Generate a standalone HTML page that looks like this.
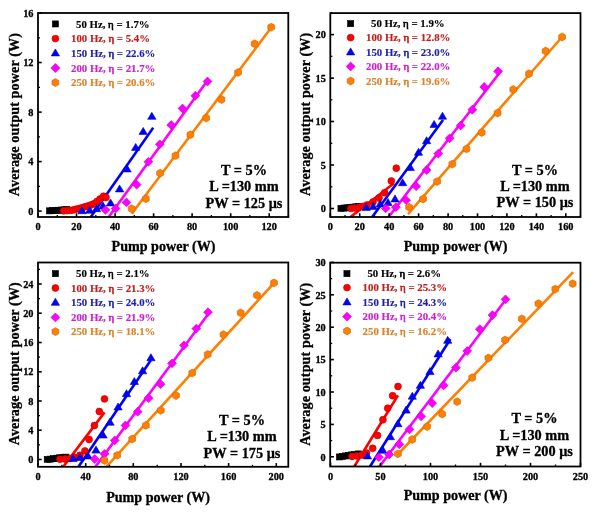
<!DOCTYPE html>
<html><head><meta charset="utf-8"><style>html,body{margin:0;padding:0;background:#fff;width:600px;height:514px;overflow:hidden}svg{display:block;will-change:transform}</style></head>
<body><svg width="600" height="514" viewBox="0 0 600 514">
<rect width="600" height="514" fill="#fff"/>
<clipPath id="c3813"><rect x="38" y="13" width="250.3" height="204"/></clipPath>
<g clip-path="url(#c3813)">
<line x1="90.8" y1="217" x2="153.2" y2="127.7" stroke="#0000ff" stroke-width="2.6"/>
<line x1="108.7" y1="217" x2="207.5" y2="80.5" stroke="#ff00ff" stroke-width="2.6"/>
<line x1="131.7" y1="213.75" x2="270.5" y2="28.5" stroke="#ff8000" stroke-width="2.6"/>
<rect x="46.5" y="207.8" width="6.1" height="6.1" fill="#000000" stroke="#000" stroke-width="0.6"/>
<rect x="49.5" y="207.6" width="6.1" height="6.1" fill="#000000" stroke="#000" stroke-width="0.6"/>
<rect x="52.5" y="207.4" width="6.1" height="6.1" fill="#000000" stroke="#000" stroke-width="0.6"/>
<rect x="55.5" y="207.2" width="6.1" height="6.1" fill="#000000" stroke="#000" stroke-width="0.6"/>
<rect x="58.5" y="207.0" width="6.1" height="6.1" fill="#000000" stroke="#000" stroke-width="0.6"/>
<rect x="61.5" y="206.8" width="6.1" height="6.1" fill="#000000" stroke="#000" stroke-width="0.6"/>
<rect x="63.7" y="206.5" width="6.1" height="6.1" fill="#000000" stroke="#000" stroke-width="0.6"/>
<circle cx="63.7" cy="210.8" r="3.45" fill="#ff0000" stroke="#c00000" stroke-width="0.6"/>
<circle cx="67.0" cy="210.6" r="3.45" fill="#ff0000" stroke="#c00000" stroke-width="0.6"/>
<circle cx="70.0" cy="210.4" r="3.45" fill="#ff0000" stroke="#c00000" stroke-width="0.6"/>
<circle cx="73.0" cy="210.0" r="3.45" fill="#ff0000" stroke="#c00000" stroke-width="0.6"/>
<circle cx="76.0" cy="209.3" r="3.45" fill="#ff0000" stroke="#c00000" stroke-width="0.6"/>
<circle cx="79.0" cy="208.5" r="3.45" fill="#ff0000" stroke="#c00000" stroke-width="0.6"/>
<circle cx="82.0" cy="207.7" r="3.45" fill="#ff0000" stroke="#c00000" stroke-width="0.6"/>
<circle cx="85.0" cy="206.8" r="3.45" fill="#ff0000" stroke="#c00000" stroke-width="0.6"/>
<circle cx="88.0" cy="205.9" r="3.45" fill="#ff0000" stroke="#c00000" stroke-width="0.6"/>
<circle cx="91.0" cy="204.9" r="3.45" fill="#ff0000" stroke="#c00000" stroke-width="0.6"/>
<circle cx="94.0" cy="203.7" r="3.45" fill="#ff0000" stroke="#c00000" stroke-width="0.6"/>
<circle cx="97.0" cy="201.5" r="3.45" fill="#ff0000" stroke="#c00000" stroke-width="0.6"/>
<circle cx="100.0" cy="199.0" r="3.45" fill="#ff0000" stroke="#c00000" stroke-width="0.6"/>
<circle cx="103.5" cy="196.2" r="3.45" fill="#ff0000" stroke="#c00000" stroke-width="0.6"/>
<circle cx="106.0" cy="197.5" r="3.45" fill="#ff0000" stroke="#c00000" stroke-width="0.6"/>
<polygon points="82.0,206.7 86.2,213.7 77.8,213.7" fill="#0000ff" stroke="#0000a8" stroke-width="0.6" stroke-linejoin="round"/>
<polygon points="89.7,206.2 93.9,213.2 85.5,213.2" fill="#0000ff" stroke="#0000a8" stroke-width="0.6" stroke-linejoin="round"/>
<polygon points="96.5,204.7 100.7,211.7 92.3,211.7" fill="#0000ff" stroke="#0000a8" stroke-width="0.6" stroke-linejoin="round"/>
<polygon points="103.0,202.1 107.2,209.1 98.8,209.1" fill="#0000ff" stroke="#0000a8" stroke-width="0.6" stroke-linejoin="round"/>
<polygon points="110.5,198.9 114.7,205.9 106.3,205.9" fill="#0000ff" stroke="#0000a8" stroke-width="0.6" stroke-linejoin="round"/>
<polygon points="119.6,184.9 123.8,191.9 115.4,191.9" fill="#0000ff" stroke="#0000a8" stroke-width="0.6" stroke-linejoin="round"/>
<polygon points="127.1,164.9 131.2,171.9 122.9,171.9" fill="#0000ff" stroke="#0000a8" stroke-width="0.6" stroke-linejoin="round"/>
<polygon points="135.7,143.4 139.8,150.4 131.5,150.4" fill="#0000ff" stroke="#0000a8" stroke-width="0.6" stroke-linejoin="round"/>
<polygon points="143.2,127.4 147.3,134.4 139.0,134.4" fill="#0000ff" stroke="#0000a8" stroke-width="0.6" stroke-linejoin="round"/>
<polygon points="151.8,112.3 156.0,119.3 147.7,119.3" fill="#0000ff" stroke="#0000a8" stroke-width="0.6" stroke-linejoin="round"/>
<polygon points="105.4,205.5 109.9,209.9 105.4,214.3 101.0,209.9" fill="#ff00ff" stroke="#c000c0" stroke-width="0.6"/>
<polygon points="115.6,204.1 120.0,208.5 115.6,212.9 111.1,208.5" fill="#ff00ff" stroke="#c000c0" stroke-width="0.6"/>
<polygon points="126.5,198.0 130.9,202.4 126.5,206.8 122.0,202.4" fill="#ff00ff" stroke="#c000c0" stroke-width="0.6"/>
<polygon points="136.7,180.2 141.1,184.7 136.7,189.1 132.2,184.7" fill="#ff00ff" stroke="#c000c0" stroke-width="0.6"/>
<polygon points="148.4,157.4 152.8,161.8 148.4,166.2 144.0,161.8" fill="#ff00ff" stroke="#c000c0" stroke-width="0.6"/>
<polygon points="159.8,139.9 164.2,144.3 159.8,148.8 155.4,144.3" fill="#ff00ff" stroke="#c000c0" stroke-width="0.6"/>
<polygon points="171.2,120.5 175.6,125.0 171.2,129.4 166.8,125.0" fill="#ff00ff" stroke="#c000c0" stroke-width="0.6"/>
<polygon points="182.5,104.0 186.9,108.4 182.5,112.9 178.1,108.4" fill="#ff00ff" stroke="#c000c0" stroke-width="0.6"/>
<polygon points="195.3,91.3 199.8,95.8 195.3,100.2 190.9,95.8" fill="#ff00ff" stroke="#c000c0" stroke-width="0.6"/>
<polygon points="207.5,77.0 211.9,81.5 207.5,86.0 203.1,81.5" fill="#ff00ff" stroke="#c000c0" stroke-width="0.6"/>
<polygon points="131.7,204.8 135.1,206.8 135.1,210.7 131.7,212.7 128.3,210.7 128.3,206.8" fill="#ff8000" stroke="#d06000" stroke-width="0.6"/>
<polygon points="145.8,194.8 149.2,196.8 149.2,200.7 145.8,202.7 142.4,200.7 142.4,196.8" fill="#ff8000" stroke="#d06000" stroke-width="0.6"/>
<polygon points="160.1,169.2 163.5,171.2 163.5,175.2 160.1,177.1 156.7,175.2 156.7,171.2" fill="#ff8000" stroke="#d06000" stroke-width="0.6"/>
<polygon points="175.5,151.8 178.9,153.7 178.9,157.7 175.5,159.6 172.1,157.7 172.1,153.7" fill="#ff8000" stroke="#d06000" stroke-width="0.6"/>
<polygon points="190.4,130.8 193.8,132.7 193.8,136.7 190.4,138.6 187.0,136.7 187.0,132.7" fill="#ff8000" stroke="#d06000" stroke-width="0.6"/>
<polygon points="206.2,114.0 209.6,116.0 209.6,120.0 206.2,122.0 202.8,120.0 202.8,116.0" fill="#ff8000" stroke="#d06000" stroke-width="0.6"/>
<polygon points="221.5,95.5 224.9,97.5 224.9,101.5 221.5,103.5 218.1,101.5 218.1,97.5" fill="#ff8000" stroke="#d06000" stroke-width="0.6"/>
<polygon points="238.1,68.5 241.5,70.4 241.5,74.4 238.1,76.4 234.7,74.4 234.7,70.4" fill="#ff8000" stroke="#d06000" stroke-width="0.6"/>
<polygon points="254.6,39.8 258.0,41.8 258.0,45.7 254.6,47.7 251.2,45.7 251.2,41.8" fill="#ff8000" stroke="#d06000" stroke-width="0.6"/>
<polygon points="271.2,23.2 274.7,25.1 274.7,29.1 271.2,31.1 267.8,29.1 267.8,25.1" fill="#ff8000" stroke="#d06000" stroke-width="0.6"/>
</g>
<rect x="38" y="13" width="250.3" height="204" fill="none" stroke="#000" stroke-width="1.8"/>
<line x1="38.0" y1="217" x2="38.0" y2="213.3" stroke="#000" stroke-width="1.6"/>
<text x="38.0" y="229.8" font-size="10.3" fill="#000" stroke="#000" stroke-width="0.3" text-anchor="middle" font-family="Liberation Serif" font-weight="bold" >0</text>
<line x1="57.3" y1="217" x2="57.3" y2="215" stroke="#000" stroke-width="1.3"/>
<line x1="76.5" y1="217" x2="76.5" y2="213.3" stroke="#000" stroke-width="1.6"/>
<text x="76.5" y="229.8" font-size="10.3" fill="#000" stroke="#000" stroke-width="0.3" text-anchor="middle" font-family="Liberation Serif" font-weight="bold" >20</text>
<line x1="95.8" y1="217" x2="95.8" y2="215" stroke="#000" stroke-width="1.3"/>
<line x1="115.1" y1="217" x2="115.1" y2="213.3" stroke="#000" stroke-width="1.6"/>
<text x="115.1" y="229.8" font-size="10.3" fill="#000" stroke="#000" stroke-width="0.3" text-anchor="middle" font-family="Liberation Serif" font-weight="bold" >40</text>
<line x1="134.3" y1="217" x2="134.3" y2="215" stroke="#000" stroke-width="1.3"/>
<line x1="153.6" y1="217" x2="153.6" y2="213.3" stroke="#000" stroke-width="1.6"/>
<text x="153.6" y="229.8" font-size="10.3" fill="#000" stroke="#000" stroke-width="0.3" text-anchor="middle" font-family="Liberation Serif" font-weight="bold" >60</text>
<line x1="172.9" y1="217" x2="172.9" y2="215" stroke="#000" stroke-width="1.3"/>
<line x1="192.1" y1="217" x2="192.1" y2="213.3" stroke="#000" stroke-width="1.6"/>
<text x="192.1" y="229.8" font-size="10.3" fill="#000" stroke="#000" stroke-width="0.3" text-anchor="middle" font-family="Liberation Serif" font-weight="bold" >80</text>
<line x1="211.4" y1="217" x2="211.4" y2="215" stroke="#000" stroke-width="1.3"/>
<line x1="230.7" y1="217" x2="230.7" y2="213.3" stroke="#000" stroke-width="1.6"/>
<text x="230.7" y="229.8" font-size="10.3" fill="#000" stroke="#000" stroke-width="0.3" text-anchor="middle" font-family="Liberation Serif" font-weight="bold" >100</text>
<line x1="249.9" y1="217" x2="249.9" y2="215" stroke="#000" stroke-width="1.3"/>
<line x1="269.2" y1="217" x2="269.2" y2="213.3" stroke="#000" stroke-width="1.6"/>
<text x="269.2" y="229.8" font-size="10.3" fill="#000" stroke="#000" stroke-width="0.3" text-anchor="middle" font-family="Liberation Serif" font-weight="bold" >120</text>
<line x1="288.5" y1="217" x2="288.5" y2="215" stroke="#000" stroke-width="1.3"/>
<line x1="38" y1="211.1" x2="41.7" y2="211.1" stroke="#000" stroke-width="1.6"/>
<text x="33.5" y="214.8" font-size="10.3" fill="#000" stroke="#000" stroke-width="0.3" text-anchor="end" font-family="Liberation Serif" font-weight="bold" >0</text>
<line x1="38" y1="186.3" x2="40" y2="186.3" stroke="#000" stroke-width="1.3"/>
<line x1="38" y1="161.6" x2="41.7" y2="161.6" stroke="#000" stroke-width="1.6"/>
<text x="33.5" y="165.3" font-size="10.3" fill="#000" stroke="#000" stroke-width="0.3" text-anchor="end" font-family="Liberation Serif" font-weight="bold" >4</text>
<line x1="38" y1="136.8" x2="40" y2="136.8" stroke="#000" stroke-width="1.3"/>
<line x1="38" y1="112.1" x2="41.7" y2="112.1" stroke="#000" stroke-width="1.6"/>
<text x="33.5" y="115.8" font-size="10.3" fill="#000" stroke="#000" stroke-width="0.3" text-anchor="end" font-family="Liberation Serif" font-weight="bold" >8</text>
<line x1="38" y1="87.3" x2="40" y2="87.3" stroke="#000" stroke-width="1.3"/>
<line x1="38" y1="62.5" x2="41.7" y2="62.5" stroke="#000" stroke-width="1.6"/>
<text x="33.5" y="66.2" font-size="10.3" fill="#000" stroke="#000" stroke-width="0.3" text-anchor="end" font-family="Liberation Serif" font-weight="bold" >12</text>
<line x1="38" y1="37.8" x2="40" y2="37.8" stroke="#000" stroke-width="1.3"/>
<line x1="38" y1="13.0" x2="41.7" y2="13.0" stroke="#000" stroke-width="1.6"/>
<text x="33.5" y="16.7" font-size="10.3" fill="#000" stroke="#000" stroke-width="0.3" text-anchor="end" font-family="Liberation Serif" font-weight="bold" >16</text>
<rect x="52.4" y="20.9" width="6.1" height="6.1" fill="#000000" stroke="#000" stroke-width="0.6"/>
<text x="76" y="27.7" font-size="10.8" fill="#000" stroke="#000" stroke-width="0.15" text-anchor="start" font-family="Liberation Serif" font-weight="bold" >50 Hz, <tspan font-weight="normal" stroke-width="0.65">η</tspan> = 1.7%</text>
<circle cx="55.4" cy="38.6" r="3.45" fill="#ff0000" stroke="#c00000" stroke-width="0.6"/>
<text x="71" y="42.3" font-size="10.8" fill="#c41c1c" stroke="#c41c1c" stroke-width="0.15" text-anchor="start" font-family="Liberation Serif" font-weight="bold" >100 Hz, <tspan font-weight="normal" stroke-width="0.65">η</tspan> = 5.4%</text>
<polygon points="55.4,48.9 59.5,55.9 51.2,55.9" fill="#0000ff" stroke="#0000a8" stroke-width="0.6" stroke-linejoin="round"/>
<text x="71" y="56.7" font-size="10.8" fill="#1e1ea8" stroke="#1e1ea8" stroke-width="0.15" text-anchor="start" font-family="Liberation Serif" font-weight="bold" >150 Hz, <tspan font-weight="normal" stroke-width="0.65">η</tspan> = 22.6%</text>
<polygon points="55.4,63.5 59.9,68.0 55.4,72.5 50.9,68.0" fill="#ff00ff" stroke="#c000c0" stroke-width="0.6"/>
<text x="71" y="71.7" font-size="10.8" fill="#cc22cc" stroke="#cc22cc" stroke-width="0.15" text-anchor="start" font-family="Liberation Serif" font-weight="bold" >200 Hz, <tspan font-weight="normal" stroke-width="0.65">η</tspan> = 21.7%</text>
<polygon points="55.4,78.6 58.8,80.6 58.8,84.6 55.4,86.5 52.0,84.6 52.0,80.6" fill="#ff8000" stroke="#d06000" stroke-width="0.6"/>
<text x="71" y="86.3" font-size="10.8" fill="#dc8228" stroke="#dc8228" stroke-width="0.15" text-anchor="start" font-family="Liberation Serif" font-weight="bold" >250 Hz, <tspan font-weight="normal" stroke-width="0.65">η</tspan> = 20.6%</text>
<text x="244" y="174.5" font-size="14.3" fill="#000" stroke="#000" stroke-width="0.3" text-anchor="middle" font-family="Liberation Serif" font-weight="bold" >T = 5%</text>
<text x="244" y="191" font-size="14.3" fill="#000" stroke="#000" stroke-width="0.3" text-anchor="middle" font-family="Liberation Serif" font-weight="bold" >L =130 mm</text>
<text x="244" y="207.5" font-size="14.3" fill="#000" stroke="#000" stroke-width="0.3" text-anchor="middle" font-family="Liberation Serif" font-weight="bold" >PW = 125 μs</text>
<text x="163.5" y="250.8" font-size="14.1" fill="#000" stroke="#000" stroke-width="0.3" text-anchor="middle" font-family="Liberation Serif" font-weight="bold" >Pump power (W)</text>
<text transform="translate(19.4,114.6) rotate(-90)" font-size="14.1" stroke="#000" stroke-width="0.3" letter-spacing="0.12" text-anchor="middle" font-family="Liberation Serif" font-weight="bold">Average output power (W)</text>
<clipPath id="c33013"><rect x="330.3" y="13.1" width="250.2" height="203.9"/></clipPath>
<g clip-path="url(#c33013)">
<line x1="350.5" y1="217" x2="394" y2="183.3" stroke="#ff0000" stroke-width="2.6"/>
<line x1="372.2" y1="217" x2="443" y2="120" stroke="#0000ff" stroke-width="2.6"/>
<line x1="388.6" y1="217" x2="499.4" y2="73" stroke="#ff00ff" stroke-width="2.6"/>
<line x1="408" y1="214.2" x2="562" y2="37" stroke="#ff8000" stroke-width="2.6"/>
<rect x="337.9" y="205.3" width="6.1" height="6.1" fill="#000000" stroke="#000" stroke-width="0.6"/>
<rect x="340.9" y="205.0" width="6.1" height="6.1" fill="#000000" stroke="#000" stroke-width="0.6"/>
<rect x="343.9" y="204.8" width="6.1" height="6.1" fill="#000000" stroke="#000" stroke-width="0.6"/>
<rect x="346.9" y="204.4" width="6.1" height="6.1" fill="#000000" stroke="#000" stroke-width="0.6"/>
<rect x="349.9" y="204.1" width="6.1" height="6.1" fill="#000000" stroke="#000" stroke-width="0.6"/>
<rect x="352.9" y="203.8" width="6.1" height="6.1" fill="#000000" stroke="#000" stroke-width="0.6"/>
<rect x="355.6" y="203.5" width="6.1" height="6.1" fill="#000000" stroke="#000" stroke-width="0.6"/>
<circle cx="351.0" cy="208.4" r="3.45" fill="#ff0000" stroke="#c00000" stroke-width="0.6"/>
<circle cx="355.0" cy="208.0" r="3.45" fill="#ff0000" stroke="#c00000" stroke-width="0.6"/>
<circle cx="359.0" cy="207.4" r="3.45" fill="#ff0000" stroke="#c00000" stroke-width="0.6"/>
<circle cx="363.0" cy="206.4" r="3.45" fill="#ff0000" stroke="#c00000" stroke-width="0.6"/>
<circle cx="367.0" cy="205.0" r="3.45" fill="#ff0000" stroke="#c00000" stroke-width="0.6"/>
<circle cx="373.0" cy="202.0" r="3.45" fill="#ff0000" stroke="#c00000" stroke-width="0.6"/>
<circle cx="379.0" cy="198.0" r="3.45" fill="#ff0000" stroke="#c00000" stroke-width="0.6"/>
<circle cx="384.7" cy="192.7" r="3.45" fill="#ff0000" stroke="#c00000" stroke-width="0.6"/>
<circle cx="391.3" cy="181.0" r="3.45" fill="#ff0000" stroke="#c00000" stroke-width="0.6"/>
<circle cx="396.3" cy="168.2" r="3.45" fill="#ff0000" stroke="#c00000" stroke-width="0.6"/>
<polygon points="366.2,203.4 370.3,210.4 362.1,210.4" fill="#0000ff" stroke="#0000a8" stroke-width="0.6" stroke-linejoin="round"/>
<polygon points="373.2,202.4 377.3,209.4 369.1,209.4" fill="#0000ff" stroke="#0000a8" stroke-width="0.6" stroke-linejoin="round"/>
<polygon points="380.2,199.9 384.3,206.9 376.1,206.9" fill="#0000ff" stroke="#0000a8" stroke-width="0.6" stroke-linejoin="round"/>
<polygon points="388.0,198.5 392.1,205.5 383.9,205.5" fill="#0000ff" stroke="#0000a8" stroke-width="0.6" stroke-linejoin="round"/>
<polygon points="395.0,194.9 399.1,201.9 390.9,201.9" fill="#0000ff" stroke="#0000a8" stroke-width="0.6" stroke-linejoin="round"/>
<polygon points="402.6,178.7 406.8,185.7 398.5,185.7" fill="#0000ff" stroke="#0000a8" stroke-width="0.6" stroke-linejoin="round"/>
<polygon points="410.3,163.5 414.4,170.5 406.2,170.5" fill="#0000ff" stroke="#0000a8" stroke-width="0.6" stroke-linejoin="round"/>
<polygon points="418.5,148.3 422.6,155.3 414.4,155.3" fill="#0000ff" stroke="#0000a8" stroke-width="0.6" stroke-linejoin="round"/>
<polygon points="426.6,136.7 430.8,143.7 422.5,143.7" fill="#0000ff" stroke="#0000a8" stroke-width="0.6" stroke-linejoin="round"/>
<polygon points="434.1,120.4 438.2,127.4 430.0,127.4" fill="#0000ff" stroke="#0000a8" stroke-width="0.6" stroke-linejoin="round"/>
<polygon points="442.5,112.2 446.6,119.2 438.4,119.2" fill="#0000ff" stroke="#0000a8" stroke-width="0.6" stroke-linejoin="round"/>
<polygon points="385.8,204.0 390.2,208.4 385.8,212.8 381.4,208.4" fill="#ff00ff" stroke="#c000c0" stroke-width="0.6"/>
<polygon points="395.9,202.8 400.3,207.2 395.9,211.6 391.4,207.2" fill="#ff00ff" stroke="#c000c0" stroke-width="0.6"/>
<polygon points="406.1,195.8 410.6,200.2 406.1,204.6 401.7,200.2" fill="#ff00ff" stroke="#c000c0" stroke-width="0.6"/>
<polygon points="416.1,181.8 420.6,186.2 416.1,190.6 411.7,186.2" fill="#ff00ff" stroke="#c000c0" stroke-width="0.6"/>
<polygon points="426.6,165.6 431.1,170.0 426.6,174.4 422.2,170.0" fill="#ff00ff" stroke="#c000c0" stroke-width="0.6"/>
<polygon points="438.3,149.2 442.8,153.6 438.3,158.0 433.9,153.6" fill="#ff00ff" stroke="#c000c0" stroke-width="0.6"/>
<polygon points="449.6,133.9 454.1,138.3 449.6,142.8 445.2,138.3" fill="#ff00ff" stroke="#c000c0" stroke-width="0.6"/>
<polygon points="460.7,121.1 465.1,125.6 460.7,130.0 456.2,125.6" fill="#ff00ff" stroke="#c000c0" stroke-width="0.6"/>
<polygon points="472.3,105.2 476.8,109.7 472.3,114.2 467.9,109.7" fill="#ff00ff" stroke="#c000c0" stroke-width="0.6"/>
<polygon points="484.2,82.5 488.6,87.0 484.2,91.5 479.8,87.0" fill="#ff00ff" stroke="#c000c0" stroke-width="0.6"/>
<polygon points="498.1,66.8 502.6,71.3 498.1,75.8 493.7,71.3" fill="#ff00ff" stroke="#c000c0" stroke-width="0.6"/>
<polygon points="409.1,203.2 412.5,205.2 412.5,209.2 409.1,211.1 405.7,209.2 405.7,205.2" fill="#ff8000" stroke="#d06000" stroke-width="0.6"/>
<polygon points="423.1,195.1 426.5,197.0 426.5,201.0 423.1,202.9 419.7,201.0 419.7,197.0" fill="#ff8000" stroke="#d06000" stroke-width="0.6"/>
<polygon points="437.1,177.7 440.5,179.6 440.5,183.6 437.1,185.5 433.7,183.6 433.7,179.6" fill="#ff8000" stroke="#d06000" stroke-width="0.6"/>
<polygon points="452.3,160.2 455.7,162.1 455.7,166.1 452.3,168.0 448.9,166.1 448.9,162.1" fill="#ff8000" stroke="#d06000" stroke-width="0.6"/>
<polygon points="466.5,145.0 469.9,146.9 469.9,150.9 466.5,152.8 463.1,150.9 463.1,146.9" fill="#ff8000" stroke="#d06000" stroke-width="0.6"/>
<polygon points="481.7,128.6 485.1,130.5 485.1,134.5 481.7,136.4 478.3,134.5 478.3,130.5" fill="#ff8000" stroke="#d06000" stroke-width="0.6"/>
<polygon points="497.6,109.0 501.0,111.0 501.0,115.0 497.6,117.0 494.2,115.0 494.2,111.0" fill="#ff8000" stroke="#d06000" stroke-width="0.6"/>
<polygon points="513.3,85.5 516.7,87.5 516.7,91.5 513.3,93.5 509.9,91.5 509.9,87.5" fill="#ff8000" stroke="#d06000" stroke-width="0.6"/>
<polygon points="529.0,69.8 532.4,71.8 532.4,75.8 529.0,77.8 525.6,75.8 525.6,71.8" fill="#ff8000" stroke="#d06000" stroke-width="0.6"/>
<polygon points="545.6,47.1 549.0,49.1 549.0,53.1 545.6,55.1 542.2,53.1 542.2,49.1" fill="#ff8000" stroke="#d06000" stroke-width="0.6"/>
<polygon points="562.1,32.9 565.5,34.9 565.5,38.9 562.1,40.9 558.7,38.9 558.7,34.9" fill="#ff8000" stroke="#d06000" stroke-width="0.6"/>
</g>
<rect x="330.3" y="13.1" width="250.2" height="203.9" fill="none" stroke="#000" stroke-width="1.8"/>
<line x1="330.3" y1="217" x2="330.3" y2="213.3" stroke="#000" stroke-width="1.6"/>
<text x="330.3" y="229.8" font-size="10.3" fill="#000" stroke="#000" stroke-width="0.3" text-anchor="middle" font-family="Liberation Serif" font-weight="bold" >0</text>
<line x1="345.0" y1="217" x2="345.0" y2="215" stroke="#000" stroke-width="1.3"/>
<line x1="359.7" y1="217" x2="359.7" y2="213.3" stroke="#000" stroke-width="1.6"/>
<text x="359.7" y="229.8" font-size="10.3" fill="#000" stroke="#000" stroke-width="0.3" text-anchor="middle" font-family="Liberation Serif" font-weight="bold" >20</text>
<line x1="374.5" y1="217" x2="374.5" y2="215" stroke="#000" stroke-width="1.3"/>
<line x1="389.2" y1="217" x2="389.2" y2="213.3" stroke="#000" stroke-width="1.6"/>
<text x="389.2" y="229.8" font-size="10.3" fill="#000" stroke="#000" stroke-width="0.3" text-anchor="middle" font-family="Liberation Serif" font-weight="bold" >40</text>
<line x1="403.9" y1="217" x2="403.9" y2="215" stroke="#000" stroke-width="1.3"/>
<line x1="418.6" y1="217" x2="418.6" y2="213.3" stroke="#000" stroke-width="1.6"/>
<text x="418.6" y="229.8" font-size="10.3" fill="#000" stroke="#000" stroke-width="0.3" text-anchor="middle" font-family="Liberation Serif" font-weight="bold" >60</text>
<line x1="433.3" y1="217" x2="433.3" y2="215" stroke="#000" stroke-width="1.3"/>
<line x1="448.1" y1="217" x2="448.1" y2="213.3" stroke="#000" stroke-width="1.6"/>
<text x="448.1" y="229.8" font-size="10.3" fill="#000" stroke="#000" stroke-width="0.3" text-anchor="middle" font-family="Liberation Serif" font-weight="bold" >80</text>
<line x1="462.8" y1="217" x2="462.8" y2="215" stroke="#000" stroke-width="1.3"/>
<line x1="477.5" y1="217" x2="477.5" y2="213.3" stroke="#000" stroke-width="1.6"/>
<text x="477.5" y="229.8" font-size="10.3" fill="#000" stroke="#000" stroke-width="0.3" text-anchor="middle" font-family="Liberation Serif" font-weight="bold" >100</text>
<line x1="492.2" y1="217" x2="492.2" y2="215" stroke="#000" stroke-width="1.3"/>
<line x1="506.9" y1="217" x2="506.9" y2="213.3" stroke="#000" stroke-width="1.6"/>
<text x="506.9" y="229.8" font-size="10.3" fill="#000" stroke="#000" stroke-width="0.3" text-anchor="middle" font-family="Liberation Serif" font-weight="bold" >120</text>
<line x1="521.7" y1="217" x2="521.7" y2="215" stroke="#000" stroke-width="1.3"/>
<line x1="536.4" y1="217" x2="536.4" y2="213.3" stroke="#000" stroke-width="1.6"/>
<text x="536.4" y="229.8" font-size="10.3" fill="#000" stroke="#000" stroke-width="0.3" text-anchor="middle" font-family="Liberation Serif" font-weight="bold" >140</text>
<line x1="551.1" y1="217" x2="551.1" y2="215" stroke="#000" stroke-width="1.3"/>
<line x1="565.8" y1="217" x2="565.8" y2="213.3" stroke="#000" stroke-width="1.6"/>
<text x="565.8" y="229.8" font-size="10.3" fill="#000" stroke="#000" stroke-width="0.3" text-anchor="middle" font-family="Liberation Serif" font-weight="bold" >160</text>
<line x1="580.5" y1="217" x2="580.5" y2="215" stroke="#000" stroke-width="1.3"/>
<line x1="330.3" y1="208.5" x2="334.0" y2="208.5" stroke="#000" stroke-width="1.6"/>
<text x="325.8" y="212.2" font-size="10.3" fill="#000" stroke="#000" stroke-width="0.3" text-anchor="end" font-family="Liberation Serif" font-weight="bold" >0</text>
<line x1="330.3" y1="186.8" x2="332.3" y2="186.8" stroke="#000" stroke-width="1.3"/>
<line x1="330.3" y1="165.0" x2="334.0" y2="165.0" stroke="#000" stroke-width="1.6"/>
<text x="325.8" y="168.7" font-size="10.3" fill="#000" stroke="#000" stroke-width="0.3" text-anchor="end" font-family="Liberation Serif" font-weight="bold" >5</text>
<line x1="330.3" y1="143.3" x2="332.3" y2="143.3" stroke="#000" stroke-width="1.3"/>
<line x1="330.3" y1="121.5" x2="334.0" y2="121.5" stroke="#000" stroke-width="1.6"/>
<text x="325.8" y="125.2" font-size="10.3" fill="#000" stroke="#000" stroke-width="0.3" text-anchor="end" font-family="Liberation Serif" font-weight="bold" >10</text>
<line x1="330.3" y1="99.8" x2="332.3" y2="99.8" stroke="#000" stroke-width="1.3"/>
<line x1="330.3" y1="78.1" x2="334.0" y2="78.1" stroke="#000" stroke-width="1.6"/>
<text x="325.8" y="81.8" font-size="10.3" fill="#000" stroke="#000" stroke-width="0.3" text-anchor="end" font-family="Liberation Serif" font-weight="bold" >15</text>
<line x1="330.3" y1="56.3" x2="332.3" y2="56.3" stroke="#000" stroke-width="1.3"/>
<line x1="330.3" y1="34.6" x2="334.0" y2="34.6" stroke="#000" stroke-width="1.6"/>
<text x="325.8" y="38.3" font-size="10.3" fill="#000" stroke="#000" stroke-width="0.3" text-anchor="end" font-family="Liberation Serif" font-weight="bold" >20</text>
<line x1="330.3" y1="12.9" x2="332.3" y2="12.9" stroke="#000" stroke-width="1.3"/>
<rect x="347.6" y="20.6" width="6.1" height="6.1" fill="#000000" stroke="#000" stroke-width="0.6"/>
<text x="371" y="27.3" font-size="10.8" fill="#000" stroke="#000" stroke-width="0.15" text-anchor="start" font-family="Liberation Serif" font-weight="bold" >50 Hz, <tspan font-weight="normal" stroke-width="0.65">η</tspan> = 1.9%</text>
<circle cx="350.6" cy="37.6" r="3.45" fill="#ff0000" stroke="#c00000" stroke-width="0.6"/>
<text x="366" y="41.3" font-size="10.8" fill="#c41c1c" stroke="#c41c1c" stroke-width="0.15" text-anchor="start" font-family="Liberation Serif" font-weight="bold" >100 Hz, <tspan font-weight="normal" stroke-width="0.65">η</tspan> = 12.8%</text>
<polygon points="350.6,47.9 354.8,54.9 346.5,54.9" fill="#0000ff" stroke="#0000a8" stroke-width="0.6" stroke-linejoin="round"/>
<text x="366" y="55.7" font-size="10.8" fill="#1e1ea8" stroke="#1e1ea8" stroke-width="0.15" text-anchor="start" font-family="Liberation Serif" font-weight="bold" >150 Hz, <tspan font-weight="normal" stroke-width="0.65">η</tspan> = 23.0%</text>
<polygon points="350.6,62.0 355.1,66.4 350.6,70.9 346.2,66.4" fill="#ff00ff" stroke="#c000c0" stroke-width="0.6"/>
<text x="366" y="70.1" font-size="10.8" fill="#cc22cc" stroke="#cc22cc" stroke-width="0.15" text-anchor="start" font-family="Liberation Serif" font-weight="bold" >200 Hz, <tspan font-weight="normal" stroke-width="0.65">η</tspan> = 22.0%</text>
<polygon points="350.6,77.0 354.0,79.0 354.0,83.0 350.6,85.0 347.2,83.0 347.2,79.0" fill="#ff8000" stroke="#d06000" stroke-width="0.6"/>
<text x="366" y="84.7" font-size="10.8" fill="#dc8228" stroke="#dc8228" stroke-width="0.15" text-anchor="start" font-family="Liberation Serif" font-weight="bold" >250 Hz, <tspan font-weight="normal" stroke-width="0.65">η</tspan> = 19.6%</text>
<text x="535" y="174.7" font-size="14.3" fill="#000" stroke="#000" stroke-width="0.3" text-anchor="middle" font-family="Liberation Serif" font-weight="bold" >T = 5%</text>
<text x="535" y="191.2" font-size="14.3" fill="#000" stroke="#000" stroke-width="0.3" text-anchor="middle" font-family="Liberation Serif" font-weight="bold" >L =130 mm</text>
<text x="535" y="207.2" font-size="14.3" fill="#000" stroke="#000" stroke-width="0.3" text-anchor="middle" font-family="Liberation Serif" font-weight="bold" >PW = 150 μs</text>
<text x="455.6" y="251.25" font-size="14.1" fill="#000" stroke="#000" stroke-width="0.3" text-anchor="middle" font-family="Liberation Serif" font-weight="bold" >Pump power (W)</text>
<text transform="translate(310.2,114.3) rotate(-90)" font-size="14.1" stroke="#000" stroke-width="0.3" letter-spacing="0.12" text-anchor="middle" font-family="Liberation Serif" font-weight="bold">Average output power (W)</text>
<clipPath id="c38262"><rect x="38" y="262.5" width="250.3" height="204.3"/></clipPath>
<g clip-path="url(#c38262)">
<line x1="63.2" y1="466.8" x2="104.5" y2="412.4" stroke="#ff0000" stroke-width="2.6"/>
<line x1="78.5" y1="466.8" x2="150.8" y2="360.2" stroke="#0000ff" stroke-width="2.6"/>
<line x1="95.4" y1="466.8" x2="208.6" y2="313.6" stroke="#ff00ff" stroke-width="2.6"/>
<line x1="106.3" y1="466.8" x2="274" y2="283" stroke="#ff8000" stroke-width="2.6"/>
<rect x="44.2" y="456.3" width="6.1" height="6.1" fill="#000000" stroke="#000" stroke-width="0.6"/>
<rect x="47.2" y="456.1" width="6.1" height="6.1" fill="#000000" stroke="#000" stroke-width="0.6"/>
<rect x="50.4" y="455.6" width="6.1" height="6.1" fill="#000000" stroke="#000" stroke-width="0.6"/>
<rect x="53.5" y="455.2" width="6.1" height="6.1" fill="#000000" stroke="#000" stroke-width="0.6"/>
<rect x="56.6" y="454.8" width="6.1" height="6.1" fill="#000000" stroke="#000" stroke-width="0.6"/>
<rect x="59.7" y="454.4" width="6.1" height="6.1" fill="#000000" stroke="#000" stroke-width="0.6"/>
<rect x="62.8" y="454.1" width="6.1" height="6.1" fill="#000000" stroke="#000" stroke-width="0.6"/>
<circle cx="60.0" cy="459.2" r="3.45" fill="#ff0000" stroke="#c00000" stroke-width="0.6"/>
<circle cx="65.0" cy="459.0" r="3.45" fill="#ff0000" stroke="#c00000" stroke-width="0.6"/>
<circle cx="70.0" cy="458.5" r="3.45" fill="#ff0000" stroke="#c00000" stroke-width="0.6"/>
<circle cx="75.0" cy="457.5" r="3.45" fill="#ff0000" stroke="#c00000" stroke-width="0.6"/>
<circle cx="80.0" cy="455.3" r="3.45" fill="#ff0000" stroke="#c00000" stroke-width="0.6"/>
<circle cx="84.9" cy="450.9" r="3.45" fill="#ff0000" stroke="#c00000" stroke-width="0.6"/>
<circle cx="89.1" cy="439.5" r="3.45" fill="#ff0000" stroke="#c00000" stroke-width="0.6"/>
<circle cx="94.4" cy="425.5" r="3.45" fill="#ff0000" stroke="#c00000" stroke-width="0.6"/>
<circle cx="99.3" cy="411.5" r="3.45" fill="#ff0000" stroke="#c00000" stroke-width="0.6"/>
<circle cx="104.5" cy="398.9" r="3.45" fill="#ff0000" stroke="#c00000" stroke-width="0.6"/>
<polygon points="73.0,454.4 77.2,461.4 68.8,461.4" fill="#0000ff" stroke="#0000a8" stroke-width="0.6" stroke-linejoin="round"/>
<polygon points="80.0,453.4 84.2,460.4 75.8,460.4" fill="#0000ff" stroke="#0000a8" stroke-width="0.6" stroke-linejoin="round"/>
<polygon points="88.0,451.9 92.2,458.9 83.8,458.9" fill="#0000ff" stroke="#0000a8" stroke-width="0.6" stroke-linejoin="round"/>
<polygon points="96.0,446.1 100.2,453.1 91.8,453.1" fill="#0000ff" stroke="#0000a8" stroke-width="0.6" stroke-linejoin="round"/>
<polygon points="103.0,431.0 107.2,438.0 98.8,438.0" fill="#0000ff" stroke="#0000a8" stroke-width="0.6" stroke-linejoin="round"/>
<polygon points="110.0,418.2 114.2,425.2 105.8,425.2" fill="#0000ff" stroke="#0000a8" stroke-width="0.6" stroke-linejoin="round"/>
<polygon points="118.1,403.0 122.2,410.0 113.9,410.0" fill="#0000ff" stroke="#0000a8" stroke-width="0.6" stroke-linejoin="round"/>
<polygon points="126.5,389.7 130.7,396.7 122.3,396.7" fill="#0000ff" stroke="#0000a8" stroke-width="0.6" stroke-linejoin="round"/>
<polygon points="134.3,377.5 138.5,384.5 130.2,384.5" fill="#0000ff" stroke="#0000a8" stroke-width="0.6" stroke-linejoin="round"/>
<polygon points="142.6,366.8 146.8,373.8 138.4,373.8" fill="#0000ff" stroke="#0000a8" stroke-width="0.6" stroke-linejoin="round"/>
<polygon points="150.9,353.7 155.1,360.7 146.8,360.7" fill="#0000ff" stroke="#0000a8" stroke-width="0.6" stroke-linejoin="round"/>
<polygon points="94.7,454.6 99.2,459.0 94.7,463.4 90.2,459.0" fill="#ff00ff" stroke="#c000c0" stroke-width="0.6"/>
<polygon points="104.5,449.4 109.0,453.8 104.5,458.2 100.0,453.8" fill="#ff00ff" stroke="#c000c0" stroke-width="0.6"/>
<polygon points="114.8,435.9 119.2,440.4 114.8,444.8 110.3,440.4" fill="#ff00ff" stroke="#c000c0" stroke-width="0.6"/>
<polygon points="125.4,420.9 129.8,425.4 125.4,429.8 121.0,425.4" fill="#ff00ff" stroke="#c000c0" stroke-width="0.6"/>
<polygon points="137.7,407.2 142.1,411.7 137.7,416.1 133.2,411.7" fill="#ff00ff" stroke="#c000c0" stroke-width="0.6"/>
<polygon points="148.6,393.7 153.0,398.1 148.6,402.6 144.2,398.1" fill="#ff00ff" stroke="#c000c0" stroke-width="0.6"/>
<polygon points="160.6,379.8 165.0,384.2 160.6,388.6 156.2,384.2" fill="#ff00ff" stroke="#c000c0" stroke-width="0.6"/>
<polygon points="172.0,358.9 176.4,363.3 172.0,367.8 167.6,363.3" fill="#ff00ff" stroke="#c000c0" stroke-width="0.6"/>
<polygon points="184.0,340.9 188.4,345.3 184.0,349.8 179.6,345.3" fill="#ff00ff" stroke="#c000c0" stroke-width="0.6"/>
<polygon points="196.3,324.2 200.8,328.6 196.3,333.1 191.9,328.6" fill="#ff00ff" stroke="#c000c0" stroke-width="0.6"/>
<polygon points="208.0,307.8 212.4,312.2 208.0,316.6 203.6,312.2" fill="#ff00ff" stroke="#c000c0" stroke-width="0.6"/>
<polygon points="104.5,456.6 107.9,458.5 107.9,462.5 104.5,464.4 101.1,462.5 101.1,458.5" fill="#ff8000" stroke="#d06000" stroke-width="0.6"/>
<polygon points="117.2,451.4 120.6,453.3 120.6,457.3 117.2,459.2 113.8,457.3 113.8,453.3" fill="#ff8000" stroke="#d06000" stroke-width="0.6"/>
<polygon points="132.2,435.1 135.6,437.0 135.6,441.0 132.2,442.9 128.8,441.0 128.8,437.0" fill="#ff8000" stroke="#d06000" stroke-width="0.6"/>
<polygon points="145.9,421.4 149.3,423.4 149.3,427.4 145.9,429.3 142.5,427.4 142.5,423.4" fill="#ff8000" stroke="#d06000" stroke-width="0.6"/>
<polygon points="160.8,406.4 164.2,408.4 164.2,412.4 160.8,414.3 157.4,412.4 157.4,408.4" fill="#ff8000" stroke="#d06000" stroke-width="0.6"/>
<polygon points="176.0,391.7 179.4,393.6 179.4,397.6 176.0,399.6 172.6,397.6 172.6,393.6" fill="#ff8000" stroke="#d06000" stroke-width="0.6"/>
<polygon points="192.2,369.1 195.6,371.0 195.6,375.0 192.2,376.9 188.8,375.0 188.8,371.0" fill="#ff8000" stroke="#d06000" stroke-width="0.6"/>
<polygon points="207.7,350.4 211.1,352.4 211.1,356.4 207.7,358.3 204.3,356.4 204.3,352.4" fill="#ff8000" stroke="#d06000" stroke-width="0.6"/>
<polygon points="223.5,330.7 226.9,332.6 226.9,336.6 223.5,338.6 220.1,336.6 220.1,332.6" fill="#ff8000" stroke="#d06000" stroke-width="0.6"/>
<polygon points="240.7,308.9 244.1,310.8 244.1,314.8 240.7,316.8 237.3,314.8 237.3,310.8" fill="#ff8000" stroke="#d06000" stroke-width="0.6"/>
<polygon points="257.0,291.4 260.4,293.3 260.4,297.3 257.0,299.2 253.6,297.3 253.6,293.3" fill="#ff8000" stroke="#d06000" stroke-width="0.6"/>
<polygon points="274.0,278.9 277.4,280.8 277.4,284.8 274.0,286.8 270.6,284.8 270.6,280.8" fill="#ff8000" stroke="#d06000" stroke-width="0.6"/>
</g>
<rect x="38" y="262.5" width="250.3" height="204.3" fill="none" stroke="#000" stroke-width="1.8"/>
<line x1="38.0" y1="466.8" x2="38.0" y2="463.1" stroke="#000" stroke-width="1.6"/>
<text x="38.0" y="479.5" font-size="10.3" fill="#000" stroke="#000" stroke-width="0.3" text-anchor="middle" font-family="Liberation Serif" font-weight="bold" >0</text>
<line x1="61.8" y1="466.8" x2="61.8" y2="464.8" stroke="#000" stroke-width="1.3"/>
<line x1="85.7" y1="466.8" x2="85.7" y2="463.1" stroke="#000" stroke-width="1.6"/>
<text x="85.7" y="479.5" font-size="10.3" fill="#000" stroke="#000" stroke-width="0.3" text-anchor="middle" font-family="Liberation Serif" font-weight="bold" >40</text>
<line x1="109.5" y1="466.8" x2="109.5" y2="464.8" stroke="#000" stroke-width="1.3"/>
<line x1="133.3" y1="466.8" x2="133.3" y2="463.1" stroke="#000" stroke-width="1.6"/>
<text x="133.3" y="479.5" font-size="10.3" fill="#000" stroke="#000" stroke-width="0.3" text-anchor="middle" font-family="Liberation Serif" font-weight="bold" >80</text>
<line x1="157.2" y1="466.8" x2="157.2" y2="464.8" stroke="#000" stroke-width="1.3"/>
<line x1="181.0" y1="466.8" x2="181.0" y2="463.1" stroke="#000" stroke-width="1.6"/>
<text x="181.0" y="479.5" font-size="10.3" fill="#000" stroke="#000" stroke-width="0.3" text-anchor="middle" font-family="Liberation Serif" font-weight="bold" >120</text>
<line x1="204.8" y1="466.8" x2="204.8" y2="464.8" stroke="#000" stroke-width="1.3"/>
<line x1="228.6" y1="466.8" x2="228.6" y2="463.1" stroke="#000" stroke-width="1.6"/>
<text x="228.6" y="479.5" font-size="10.3" fill="#000" stroke="#000" stroke-width="0.3" text-anchor="middle" font-family="Liberation Serif" font-weight="bold" >160</text>
<line x1="252.5" y1="466.8" x2="252.5" y2="464.8" stroke="#000" stroke-width="1.3"/>
<line x1="276.3" y1="466.8" x2="276.3" y2="463.1" stroke="#000" stroke-width="1.6"/>
<text x="276.3" y="479.5" font-size="10.3" fill="#000" stroke="#000" stroke-width="0.3" text-anchor="middle" font-family="Liberation Serif" font-weight="bold" >200</text>
<line x1="38" y1="459.5" x2="41.7" y2="459.5" stroke="#000" stroke-width="1.6"/>
<text x="33.5" y="463.2" font-size="10.3" fill="#000" stroke="#000" stroke-width="0.3" text-anchor="end" font-family="Liberation Serif" font-weight="bold" >0</text>
<line x1="38" y1="444.9" x2="40" y2="444.9" stroke="#000" stroke-width="1.3"/>
<line x1="38" y1="430.2" x2="41.7" y2="430.2" stroke="#000" stroke-width="1.6"/>
<text x="33.5" y="433.9" font-size="10.3" fill="#000" stroke="#000" stroke-width="0.3" text-anchor="end" font-family="Liberation Serif" font-weight="bold" >4</text>
<line x1="38" y1="415.6" x2="40" y2="415.6" stroke="#000" stroke-width="1.3"/>
<line x1="38" y1="401.0" x2="41.7" y2="401.0" stroke="#000" stroke-width="1.6"/>
<text x="33.5" y="404.7" font-size="10.3" fill="#000" stroke="#000" stroke-width="0.3" text-anchor="end" font-family="Liberation Serif" font-weight="bold" >8</text>
<line x1="38" y1="386.4" x2="40" y2="386.4" stroke="#000" stroke-width="1.3"/>
<line x1="38" y1="371.8" x2="41.7" y2="371.8" stroke="#000" stroke-width="1.6"/>
<text x="33.5" y="375.4" font-size="10.3" fill="#000" stroke="#000" stroke-width="0.3" text-anchor="end" font-family="Liberation Serif" font-weight="bold" >12</text>
<line x1="38" y1="357.1" x2="40" y2="357.1" stroke="#000" stroke-width="1.3"/>
<line x1="38" y1="342.5" x2="41.7" y2="342.5" stroke="#000" stroke-width="1.6"/>
<text x="33.5" y="346.2" font-size="10.3" fill="#000" stroke="#000" stroke-width="0.3" text-anchor="end" font-family="Liberation Serif" font-weight="bold" >16</text>
<line x1="38" y1="327.9" x2="40" y2="327.9" stroke="#000" stroke-width="1.3"/>
<line x1="38" y1="313.2" x2="41.7" y2="313.2" stroke="#000" stroke-width="1.6"/>
<text x="33.5" y="316.9" font-size="10.3" fill="#000" stroke="#000" stroke-width="0.3" text-anchor="end" font-family="Liberation Serif" font-weight="bold" >20</text>
<line x1="38" y1="298.6" x2="40" y2="298.6" stroke="#000" stroke-width="1.3"/>
<line x1="38" y1="284.0" x2="41.7" y2="284.0" stroke="#000" stroke-width="1.6"/>
<text x="33.5" y="287.7" font-size="10.3" fill="#000" stroke="#000" stroke-width="0.3" text-anchor="end" font-family="Liberation Serif" font-weight="bold" >24</text>
<line x1="38" y1="269.4" x2="40" y2="269.4" stroke="#000" stroke-width="1.3"/>
<rect x="52.4" y="270.6" width="6.1" height="6.1" fill="#000000" stroke="#000" stroke-width="0.6"/>
<text x="76" y="277.3" font-size="10.8" fill="#000" stroke="#000" stroke-width="0.15" text-anchor="start" font-family="Liberation Serif" font-weight="bold" >50 Hz, <tspan font-weight="normal" stroke-width="0.65">η</tspan> = 2.1%</text>
<circle cx="55.4" cy="288.0" r="3.45" fill="#ff0000" stroke="#c00000" stroke-width="0.6"/>
<text x="71" y="291.7" font-size="10.8" fill="#c41c1c" stroke="#c41c1c" stroke-width="0.15" text-anchor="start" font-family="Liberation Serif" font-weight="bold" >100 Hz, <tspan font-weight="normal" stroke-width="0.65">η</tspan> = 21.3%</text>
<polygon points="55.4,298.3 59.5,305.3 51.2,305.3" fill="#0000ff" stroke="#0000a8" stroke-width="0.6" stroke-linejoin="round"/>
<text x="71" y="306.1" font-size="10.8" fill="#1e1ea8" stroke="#1e1ea8" stroke-width="0.15" text-anchor="start" font-family="Liberation Serif" font-weight="bold" >150 Hz, <tspan font-weight="normal" stroke-width="0.65">η</tspan> = 24.0%</text>
<polygon points="55.4,312.9 59.9,317.4 55.4,321.8 50.9,317.4" fill="#ff00ff" stroke="#c000c0" stroke-width="0.6"/>
<text x="71" y="321.1" font-size="10.8" fill="#cc22cc" stroke="#cc22cc" stroke-width="0.15" text-anchor="start" font-family="Liberation Serif" font-weight="bold" >200 Hz, <tspan font-weight="normal" stroke-width="0.65">η</tspan> = 21.9%</text>
<polygon points="55.4,327.7 58.8,329.6 58.8,333.6 55.4,335.6 52.0,333.6 52.0,329.6" fill="#ff8000" stroke="#d06000" stroke-width="0.6"/>
<text x="71" y="335.3" font-size="10.8" fill="#dc8228" stroke="#dc8228" stroke-width="0.15" text-anchor="start" font-family="Liberation Serif" font-weight="bold" >250 Hz, <tspan font-weight="normal" stroke-width="0.65">η</tspan> = 18.1%</text>
<text x="242" y="424.5" font-size="14.3" fill="#000" stroke="#000" stroke-width="0.3" text-anchor="middle" font-family="Liberation Serif" font-weight="bold" >T = 5%</text>
<text x="242" y="441" font-size="14.3" fill="#000" stroke="#000" stroke-width="0.3" text-anchor="middle" font-family="Liberation Serif" font-weight="bold" >L =130 mm</text>
<text x="242" y="457.8" font-size="14.3" fill="#000" stroke="#000" stroke-width="0.3" text-anchor="middle" font-family="Liberation Serif" font-weight="bold" >PW = 175 μs</text>
<text x="158.1" y="501.8" font-size="14.1" fill="#000" stroke="#000" stroke-width="0.3" text-anchor="middle" font-family="Liberation Serif" font-weight="bold" >Pump power (W)</text>
<text transform="translate(19.4,363.7) rotate(-90)" font-size="14.1" stroke="#000" stroke-width="0.3" letter-spacing="0.12" text-anchor="middle" font-family="Liberation Serif" font-weight="bold">Average output power (W)</text>
<clipPath id="c330262"><rect x="330.2" y="262.7" width="250.3" height="203.8"/></clipPath>
<g clip-path="url(#c330262)">
<line x1="354.3" y1="466.5" x2="398" y2="395.3" stroke="#ff0000" stroke-width="2.6"/>
<line x1="370" y1="466.5" x2="450.4" y2="339" stroke="#0000ff" stroke-width="2.6"/>
<line x1="379.5" y1="466.5" x2="505.5" y2="300" stroke="#ff00ff" stroke-width="2.6"/>
<line x1="398" y1="454" x2="573.1" y2="272.2" stroke="#ff8000" stroke-width="2.6"/>
<rect x="336.4" y="453.9" width="6.1" height="6.1" fill="#000000" stroke="#000" stroke-width="0.6"/>
<rect x="339.4" y="453.4" width="6.1" height="6.1" fill="#000000" stroke="#000" stroke-width="0.6"/>
<rect x="342.4" y="452.9" width="6.1" height="6.1" fill="#000000" stroke="#000" stroke-width="0.6"/>
<rect x="345.4" y="452.4" width="6.1" height="6.1" fill="#000000" stroke="#000" stroke-width="0.6"/>
<rect x="348.4" y="451.9" width="6.1" height="6.1" fill="#000000" stroke="#000" stroke-width="0.6"/>
<rect x="351.4" y="451.4" width="6.1" height="6.1" fill="#000000" stroke="#000" stroke-width="0.6"/>
<rect x="355.4" y="450.9" width="6.1" height="6.1" fill="#000000" stroke="#000" stroke-width="0.6"/>
<circle cx="352.0" cy="456.5" r="3.45" fill="#ff0000" stroke="#c00000" stroke-width="0.6"/>
<circle cx="357.0" cy="456.0" r="3.45" fill="#ff0000" stroke="#c00000" stroke-width="0.6"/>
<circle cx="362.0" cy="455.0" r="3.45" fill="#ff0000" stroke="#c00000" stroke-width="0.6"/>
<circle cx="366.5" cy="453.0" r="3.45" fill="#ff0000" stroke="#c00000" stroke-width="0.6"/>
<circle cx="372.7" cy="448.3" r="3.45" fill="#ff0000" stroke="#c00000" stroke-width="0.6"/>
<circle cx="377.5" cy="435.4" r="3.45" fill="#ff0000" stroke="#c00000" stroke-width="0.6"/>
<circle cx="382.9" cy="419.7" r="3.45" fill="#ff0000" stroke="#c00000" stroke-width="0.6"/>
<circle cx="387.7" cy="408.2" r="3.45" fill="#ff0000" stroke="#c00000" stroke-width="0.6"/>
<circle cx="392.6" cy="395.7" r="3.45" fill="#ff0000" stroke="#c00000" stroke-width="0.6"/>
<circle cx="398.0" cy="386.5" r="3.45" fill="#ff0000" stroke="#c00000" stroke-width="0.6"/>
<polygon points="367.5,451.9 371.6,458.9 363.4,458.9" fill="#0000ff" stroke="#0000a8" stroke-width="0.6" stroke-linejoin="round"/>
<polygon points="382.9,446.3 387.0,453.3 378.8,453.3" fill="#0000ff" stroke="#0000a8" stroke-width="0.6" stroke-linejoin="round"/>
<polygon points="390.4,432.7 394.5,439.7 386.2,439.7" fill="#0000ff" stroke="#0000a8" stroke-width="0.6" stroke-linejoin="round"/>
<polygon points="397.9,419.7 402.0,426.7 393.8,426.7" fill="#0000ff" stroke="#0000a8" stroke-width="0.6" stroke-linejoin="round"/>
<polygon points="406.1,406.1 410.2,413.1 402.0,413.1" fill="#0000ff" stroke="#0000a8" stroke-width="0.6" stroke-linejoin="round"/>
<polygon points="412.3,392.2 416.4,399.2 408.2,399.2" fill="#0000ff" stroke="#0000a8" stroke-width="0.6" stroke-linejoin="round"/>
<polygon points="420.4,381.3 424.5,388.3 416.2,388.3" fill="#0000ff" stroke="#0000a8" stroke-width="0.6" stroke-linejoin="round"/>
<polygon points="430.0,367.6 434.1,374.6 425.9,374.6" fill="#0000ff" stroke="#0000a8" stroke-width="0.6" stroke-linejoin="round"/>
<polygon points="438.1,349.9 442.2,356.9 434.0,356.9" fill="#0000ff" stroke="#0000a8" stroke-width="0.6" stroke-linejoin="round"/>
<polygon points="447.7,336.3 451.8,343.3 443.6,343.3" fill="#0000ff" stroke="#0000a8" stroke-width="0.6" stroke-linejoin="round"/>
<polygon points="378.9,452.8 383.3,457.2 378.9,461.6 374.4,457.2" fill="#ff00ff" stroke="#c000c0" stroke-width="0.6"/>
<polygon points="389.1,450.1 393.6,454.5 389.1,458.9 384.7,454.5" fill="#ff00ff" stroke="#c000c0" stroke-width="0.6"/>
<polygon points="399.3,439.9 403.8,444.3 399.3,448.8 394.9,444.3" fill="#ff00ff" stroke="#c000c0" stroke-width="0.6"/>
<polygon points="409.5,424.9 413.9,429.3 409.5,433.8 405.1,429.3" fill="#ff00ff" stroke="#c000c0" stroke-width="0.6"/>
<polygon points="421.1,411.9 425.6,416.3 421.1,420.8 416.7,416.3" fill="#ff00ff" stroke="#c000c0" stroke-width="0.6"/>
<polygon points="432.2,398.7 436.6,403.1 432.2,407.6 427.8,403.1" fill="#ff00ff" stroke="#c000c0" stroke-width="0.6"/>
<polygon points="443.6,380.9 448.1,385.4 443.6,389.8 439.2,385.4" fill="#ff00ff" stroke="#c000c0" stroke-width="0.6"/>
<polygon points="455.9,363.2 460.3,367.7 455.9,372.1 451.4,367.7" fill="#ff00ff" stroke="#c000c0" stroke-width="0.6"/>
<polygon points="467.2,346.6 471.6,351.0 467.2,355.4 462.8,351.0" fill="#ff00ff" stroke="#c000c0" stroke-width="0.6"/>
<polygon points="479.9,324.8 484.3,329.2 479.9,333.6 475.4,329.2" fill="#ff00ff" stroke="#c000c0" stroke-width="0.6"/>
<polygon points="492.5,310.7 496.9,315.1 492.5,319.6 488.1,315.1" fill="#ff00ff" stroke="#c000c0" stroke-width="0.6"/>
<polygon points="505.5,294.9 509.9,299.3 505.5,303.8 501.1,299.3" fill="#ff00ff" stroke="#c000c0" stroke-width="0.6"/>
<polygon points="397.9,449.9 401.3,451.8 401.3,455.8 397.9,457.8 394.5,455.8 394.5,451.8" fill="#ff8000" stroke="#d06000" stroke-width="0.6"/>
<polygon points="412.2,435.6 415.6,437.5 415.6,441.5 412.2,443.4 408.8,441.5 408.8,437.5" fill="#ff8000" stroke="#d06000" stroke-width="0.6"/>
<polygon points="427.2,422.7 430.6,424.6 430.6,428.6 427.2,430.6 423.8,428.6 423.8,424.6" fill="#ff8000" stroke="#d06000" stroke-width="0.6"/>
<polygon points="442.2,410.1 445.6,412.0 445.6,416.0 442.2,417.9 438.8,416.0 438.8,412.0" fill="#ff8000" stroke="#d06000" stroke-width="0.6"/>
<polygon points="457.2,397.8 460.6,399.7 460.6,403.7 457.2,405.6 453.8,403.7 453.8,399.7" fill="#ff8000" stroke="#d06000" stroke-width="0.6"/>
<polygon points="472.2,373.8 475.6,375.7 475.6,379.7 472.2,381.6 468.8,379.7 468.8,375.7" fill="#ff8000" stroke="#d06000" stroke-width="0.6"/>
<polygon points="488.4,354.1 491.8,356.0 491.8,360.0 488.4,361.9 485.0,360.0 485.0,356.0" fill="#ff8000" stroke="#d06000" stroke-width="0.6"/>
<polygon points="505.1,336.1 508.5,338.0 508.5,342.0 505.1,343.9 501.7,342.0 501.7,338.0" fill="#ff8000" stroke="#d06000" stroke-width="0.6"/>
<polygon points="521.8,314.9 525.2,316.8 525.2,320.8 521.8,322.8 518.4,320.8 518.4,316.8" fill="#ff8000" stroke="#d06000" stroke-width="0.6"/>
<polygon points="538.4,299.7 541.8,301.6 541.8,305.6 538.4,307.6 535.0,305.6 535.0,301.6" fill="#ff8000" stroke="#d06000" stroke-width="0.6"/>
<polygon points="555.3,285.2 558.7,287.1 558.7,291.1 555.3,293.1 551.9,291.1 551.9,287.1" fill="#ff8000" stroke="#d06000" stroke-width="0.6"/>
<polygon points="572.7,279.8 576.1,281.7 576.1,285.7 572.7,287.6 569.3,285.7 569.3,281.7" fill="#ff8000" stroke="#d06000" stroke-width="0.6"/>
</g>
<rect x="330.2" y="262.7" width="250.3" height="203.8" fill="none" stroke="#000" stroke-width="1.8"/>
<line x1="330.5" y1="466.5" x2="330.5" y2="462.8" stroke="#000" stroke-width="1.6"/>
<text x="330.5" y="479.5" font-size="10.3" fill="#000" stroke="#000" stroke-width="0.3" text-anchor="middle" font-family="Liberation Serif" font-weight="bold" >0</text>
<line x1="355.5" y1="466.5" x2="355.5" y2="464.5" stroke="#000" stroke-width="1.3"/>
<line x1="380.5" y1="466.5" x2="380.5" y2="462.8" stroke="#000" stroke-width="1.6"/>
<text x="380.5" y="479.5" font-size="10.3" fill="#000" stroke="#000" stroke-width="0.3" text-anchor="middle" font-family="Liberation Serif" font-weight="bold" >50</text>
<line x1="405.5" y1="466.5" x2="405.5" y2="464.5" stroke="#000" stroke-width="1.3"/>
<line x1="430.5" y1="466.5" x2="430.5" y2="462.8" stroke="#000" stroke-width="1.6"/>
<text x="430.5" y="479.5" font-size="10.3" fill="#000" stroke="#000" stroke-width="0.3" text-anchor="middle" font-family="Liberation Serif" font-weight="bold" >100</text>
<line x1="455.5" y1="466.5" x2="455.5" y2="464.5" stroke="#000" stroke-width="1.3"/>
<line x1="480.5" y1="466.5" x2="480.5" y2="462.8" stroke="#000" stroke-width="1.6"/>
<text x="480.5" y="479.5" font-size="10.3" fill="#000" stroke="#000" stroke-width="0.3" text-anchor="middle" font-family="Liberation Serif" font-weight="bold" >150</text>
<line x1="505.5" y1="466.5" x2="505.5" y2="464.5" stroke="#000" stroke-width="1.3"/>
<line x1="530.5" y1="466.5" x2="530.5" y2="462.8" stroke="#000" stroke-width="1.6"/>
<text x="530.5" y="479.5" font-size="10.3" fill="#000" stroke="#000" stroke-width="0.3" text-anchor="middle" font-family="Liberation Serif" font-weight="bold" >200</text>
<line x1="555.5" y1="466.5" x2="555.5" y2="464.5" stroke="#000" stroke-width="1.3"/>
<line x1="580.5" y1="466.5" x2="580.5" y2="462.8" stroke="#000" stroke-width="1.6"/>
<text x="580.5" y="479.5" font-size="10.3" fill="#000" stroke="#000" stroke-width="0.3" text-anchor="middle" font-family="Liberation Serif" font-weight="bold" >250</text>
<line x1="330.2" y1="456.8" x2="333.9" y2="456.8" stroke="#000" stroke-width="1.6"/>
<text x="325.7" y="460.5" font-size="10.3" fill="#000" stroke="#000" stroke-width="0.3" text-anchor="end" font-family="Liberation Serif" font-weight="bold" >0</text>
<line x1="330.2" y1="440.6" x2="332.2" y2="440.6" stroke="#000" stroke-width="1.3"/>
<line x1="330.2" y1="424.4" x2="333.9" y2="424.4" stroke="#000" stroke-width="1.6"/>
<text x="325.7" y="428.1" font-size="10.3" fill="#000" stroke="#000" stroke-width="0.3" text-anchor="end" font-family="Liberation Serif" font-weight="bold" >5</text>
<line x1="330.2" y1="408.2" x2="332.2" y2="408.2" stroke="#000" stroke-width="1.3"/>
<line x1="330.2" y1="392.0" x2="333.9" y2="392.0" stroke="#000" stroke-width="1.6"/>
<text x="325.7" y="395.7" font-size="10.3" fill="#000" stroke="#000" stroke-width="0.3" text-anchor="end" font-family="Liberation Serif" font-weight="bold" >10</text>
<line x1="330.2" y1="375.8" x2="332.2" y2="375.8" stroke="#000" stroke-width="1.3"/>
<line x1="330.2" y1="359.6" x2="333.9" y2="359.6" stroke="#000" stroke-width="1.6"/>
<text x="325.7" y="363.3" font-size="10.3" fill="#000" stroke="#000" stroke-width="0.3" text-anchor="end" font-family="Liberation Serif" font-weight="bold" >15</text>
<line x1="330.2" y1="343.4" x2="332.2" y2="343.4" stroke="#000" stroke-width="1.3"/>
<line x1="330.2" y1="327.2" x2="333.9" y2="327.2" stroke="#000" stroke-width="1.6"/>
<text x="325.7" y="330.9" font-size="10.3" fill="#000" stroke="#000" stroke-width="0.3" text-anchor="end" font-family="Liberation Serif" font-weight="bold" >20</text>
<line x1="330.2" y1="311.0" x2="332.2" y2="311.0" stroke="#000" stroke-width="1.3"/>
<line x1="330.2" y1="294.8" x2="333.9" y2="294.8" stroke="#000" stroke-width="1.6"/>
<text x="325.7" y="298.5" font-size="10.3" fill="#000" stroke="#000" stroke-width="0.3" text-anchor="end" font-family="Liberation Serif" font-weight="bold" >25</text>
<line x1="330.2" y1="278.6" x2="332.2" y2="278.6" stroke="#000" stroke-width="1.3"/>
<line x1="330.2" y1="262.4" x2="333.9" y2="262.4" stroke="#000" stroke-width="1.6"/>
<text x="325.7" y="266.1" font-size="10.3" fill="#000" stroke="#000" stroke-width="0.3" text-anchor="end" font-family="Liberation Serif" font-weight="bold" >30</text>
<rect x="343.9" y="270.6" width="6.1" height="6.1" fill="#000000" stroke="#000" stroke-width="0.6"/>
<text x="367.4" y="277.3" font-size="10.8" fill="#000" stroke="#000" stroke-width="0.15" text-anchor="start" font-family="Liberation Serif" font-weight="bold" >50 Hz, <tspan font-weight="normal" stroke-width="0.65">η</tspan> = 2.6%</text>
<circle cx="347.0" cy="287.6" r="3.45" fill="#ff0000" stroke="#c00000" stroke-width="0.6"/>
<text x="362.6" y="291.3" font-size="10.8" fill="#c41c1c" stroke="#c41c1c" stroke-width="0.15" text-anchor="start" font-family="Liberation Serif" font-weight="bold" >100 Hz, <tspan font-weight="normal" stroke-width="0.65">η</tspan> = 25.3%</text>
<polygon points="347.0,297.9 351.1,304.9 342.9,304.9" fill="#0000ff" stroke="#0000a8" stroke-width="0.6" stroke-linejoin="round"/>
<text x="362.6" y="305.7" font-size="10.8" fill="#1e1ea8" stroke="#1e1ea8" stroke-width="0.15" text-anchor="start" font-family="Liberation Serif" font-weight="bold" >150 Hz, <tspan font-weight="normal" stroke-width="0.65">η</tspan> = 24.3%</text>
<polygon points="347.0,312.2 351.4,316.6 347.0,321.1 342.6,316.6" fill="#ff00ff" stroke="#c000c0" stroke-width="0.6"/>
<text x="362.6" y="320.3" font-size="10.8" fill="#cc22cc" stroke="#cc22cc" stroke-width="0.15" text-anchor="start" font-family="Liberation Serif" font-weight="bold" >200 Hz, <tspan font-weight="normal" stroke-width="0.65">η</tspan> = 20.4%</text>
<polygon points="347.0,327.1 350.4,329.0 350.4,333.0 347.0,334.9 343.6,333.0 343.6,329.0" fill="#ff8000" stroke="#d06000" stroke-width="0.6"/>
<text x="362.6" y="334.7" font-size="10.8" fill="#dc8228" stroke="#dc8228" stroke-width="0.15" text-anchor="start" font-family="Liberation Serif" font-weight="bold" >250 Hz, <tspan font-weight="normal" stroke-width="0.65">η</tspan> = 16.2%</text>
<text x="534.5" y="423.3" font-size="14.3" fill="#000" stroke="#000" stroke-width="0.3" text-anchor="middle" font-family="Liberation Serif" font-weight="bold" >T = 5%</text>
<text x="534.5" y="439.8" font-size="14.3" fill="#000" stroke="#000" stroke-width="0.3" text-anchor="middle" font-family="Liberation Serif" font-weight="bold" >L =130 mm</text>
<text x="534.5" y="456" font-size="14.3" fill="#000" stroke="#000" stroke-width="0.3" text-anchor="middle" font-family="Liberation Serif" font-weight="bold" >PW = 200 μs</text>
<text x="455.6" y="500.4" font-size="14.1" fill="#000" stroke="#000" stroke-width="0.3" text-anchor="middle" font-family="Liberation Serif" font-weight="bold" >Pump power (W)</text>
<text transform="translate(310.2,364.2) rotate(-90)" font-size="14.1" stroke="#000" stroke-width="0.3" letter-spacing="0.12" text-anchor="middle" font-family="Liberation Serif" font-weight="bold">Average output power (W)</text>
</svg></body></html>
